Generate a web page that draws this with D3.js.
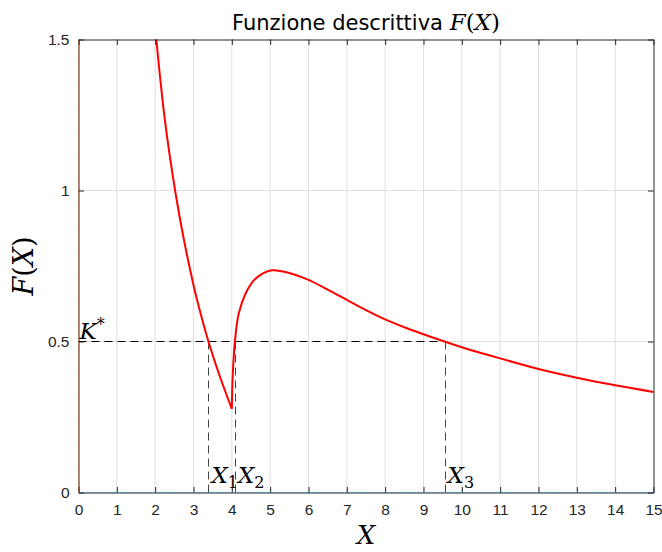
<!DOCTYPE html>
<html>
<head>
<meta charset="utf-8">
<script src="https://cdn.jsdelivr.net/npm/d3@7"></script>
<style>
  body { margin: 0; background: #fff; }
  .tick text { font-family: "Liberation Sans", Arial, sans-serif; font-size: 15.5px; fill: #262626; }
  .math { font-family: "DejaVu Serif", "Liberation Serif", serif; }
</style>
</head>
<body>
<svg id="region"></svg>
<script>
// values
let leftX  = [2.03, 2.25, 2.52, 2.75, 3.0, 3.1, 3.39, 3.7, 4.0];
let leftY  = [1.5, 1.237, 1.0, 0.837, 0.687, 0.634, 0.5, 0.38, 0.277];
let rightX = [4.0, 4.01, 4.03, 4.08, 4.18, 4.36, 4.58, 4.8, 5.05, 5.5, 6, 6.5, 7, 7.5, 8, 8.5, 9, 9.55, 10, 11, 12, 13, 14, 15];
let rightY = [0.277, 0.34, 0.405, 0.5, 0.593, 0.659, 0.703, 0.725, 0.736, 0.727, 0.704, 0.672, 0.638, 0.604, 0.573, 0.547, 0.524, 0.5, 0.481, 0.444, 0.409, 0.38, 0.355, 0.333];
let kStar = 0.5;
let crossX = [3.39, 4.08, 9.55];
let crossLabels = ["1", "2", "3"];
let xTicks = d3.range(0, 16);
let yTicks = [0, 0.5, 1, 1.5];

let W = 662, H = 552;
let margin = {top: 39.5, right: 8.5, bottom: 59.5, left: 78.5};

let svg = d3.select("#region").attr("width", W).attr("height", H);

//scales
let x = d3.scaleLinear().domain([0, 15]).range([margin.left, W - margin.right]);
let y = d3.scaleLinear().domain([0, 1.5]).range([H - margin.bottom, margin.top]);

//grid
svg.append("g").selectAll("line").data(xTicks.slice(1, -1)).join("line")
    .attr("x1", d => x(d)).attr("x2", d => x(d))
    .attr("y1", y(0)).attr("y2", y(1.5))
    .attr("stroke", "#dfdfdf").attr("stroke-width", 1);
svg.append("g").selectAll("line").data(yTicks.slice(1, -1)).join("line")
    .attr("x1", x(0)).attr("x2", x(15))
    .attr("y1", d => y(d)).attr("y2", d => y(d))
    .attr("stroke", "#dfdfdf").attr("stroke-width", 1);

//dashed guides
svg.append("line")
    .attr("x1", x(0)).attr("x2", x(crossX[2]))
    .attr("y1", y(kStar)).attr("y2", y(kStar))
    .attr("stroke", "#000").attr("stroke-dasharray", "8,5");
svg.append("g").selectAll("line").data(crossX).join("line")
    .attr("x1", d => Math.round(x(d)) + 0.5).attr("x2", d => Math.round(x(d)) + 0.5)
    .attr("y1", y(0)).attr("y2", y(kStar))
    .attr("stroke", "#444").attr("stroke-dasharray", "8,5");

//curve
let line = d3.line().x(d => x(d[0])).y(d => y(d[1])).curve(d3.curveCatmullRom.alpha(0.5));
svg.append("path").datum(d3.zip(leftX, leftY))
    .attr("d", line).attr("fill", "none").attr("stroke", "#ff0000").attr("stroke-width", 2);
svg.append("path").datum(d3.zip(rightX, rightY))
    .attr("d", line).attr("fill", "none").attr("stroke", "#ff0000").attr("stroke-width", 2);

//axes
let tl = 5.5;
svg.append("g").attr("transform", "translate(0," + y(0) + ")")
    .call(d3.axisBottom(x).tickValues(xTicks).tickFormat(d3.format("d")).tickSizeInner(-tl).tickSizeOuter(0).tickPadding(11))
    .call(g => g.select(".domain").attr("stroke", "#262626"));
svg.append("g").attr("transform", "translate(0," + y(1.5) + ")")
    .call(d3.axisTop(x).tickValues(xTicks).tickFormat("").tickSizeInner(-tl).tickSizeOuter(0))
    .call(g => g.select(".domain").attr("stroke", "#262626"));
svg.append("g").attr("transform", "translate(" + x(0) + ",0)")
    .call(d3.axisLeft(y).tickValues(yTicks).tickFormat(d => d).tickSizeInner(-tl).tickSizeOuter(0).tickPadding(9))
    .call(g => g.select(".domain").attr("stroke", "#262626"));
svg.append("g").attr("transform", "translate(" + x(15) + ",0)")
    .call(d3.axisRight(y).tickValues(yTicks).tickFormat("").tickSizeInner(-tl).tickSizeOuter(0))
    .call(g => g.select(".domain").attr("stroke", "#262626"));
svg.selectAll(".tick line").attr("stroke", "#262626");

//dotted lines along axes
svg.append("line").attr("x1", x(0)).attr("x2", x(15)).attr("y1", y(0)).attr("y2", y(0))
    .attr("stroke", "#0072BD").attr("stroke-dasharray", "1,2");
svg.append("line").attr("x1", x(0)).attr("x2", x(0)).attr("y1", y(0)).attr("y2", y(1.5))
    .attr("stroke", "#D95319").attr("stroke-dasharray", "1,2");

//K* label
let kt = svg.append("text").attr("class", "math")
    .attr("x", x(0) + 1).attr("y", y(kStar) - 3)
    .style("font-size", "23px");
kt.append("tspan").style("font-style", "italic").text("K");
kt.append("tspan").attr("dy", -9).style("font-size", "16px").text("*");

//X1 X2 X3 labels
crossX.forEach((c, i) => {
    let t = svg.append("text").attr("class", "math")
        .attr("x", x(c) + 3).attr("y", y(0) - 10)
        .style("font-size", "23px");
    t.append("tspan").style("font-style", "italic").text("X");
    t.append("tspan").attr("dy", 5).style("font-size", "16px").text(crossLabels[i]);
});

//title
let title = svg.append("text")
    .attr("x", (x(0) + x(15)) / 2).attr("y", 30)
    .style("text-anchor", "middle")
    .style("font-family", "DejaVu Sans, sans-serif")
    .style("font-size", "21px")
    .attr("fill", "#000");
title.append("tspan").text("Funzione descrittiva ");
title.append("tspan").attr("class", "math").style("font-style", "italic").style("font-size", "23px").text("F");
title.append("tspan").attr("class", "math").style("font-size", "23px").text("(");
title.append("tspan").attr("class", "math").style("font-style", "italic").style("font-size", "23px").text("X");
title.append("tspan").attr("class", "math").style("font-size", "23px").text(")");

//x label
svg.append("text").attr("class", "math")
    .attr("x", (x(0) + x(15)) / 2).attr("y", 544)
    .style("text-anchor", "middle").style("font-style", "italic")
    .style("font-size", "26px")
    .text("X");

//y label
let yl = svg.append("text").attr("class", "math")
    .attr("transform", "translate(33," + ((y(0) + y(1.5)) / 2) + ") rotate(-90)")
    .style("text-anchor", "middle")
    .style("font-size", "27px");
yl.append("tspan").style("font-style", "italic").text("F");
yl.append("tspan").text("(");
yl.append("tspan").style("font-style", "italic").text("X");
yl.append("tspan").text(")");
</script>
</body>
</html>
